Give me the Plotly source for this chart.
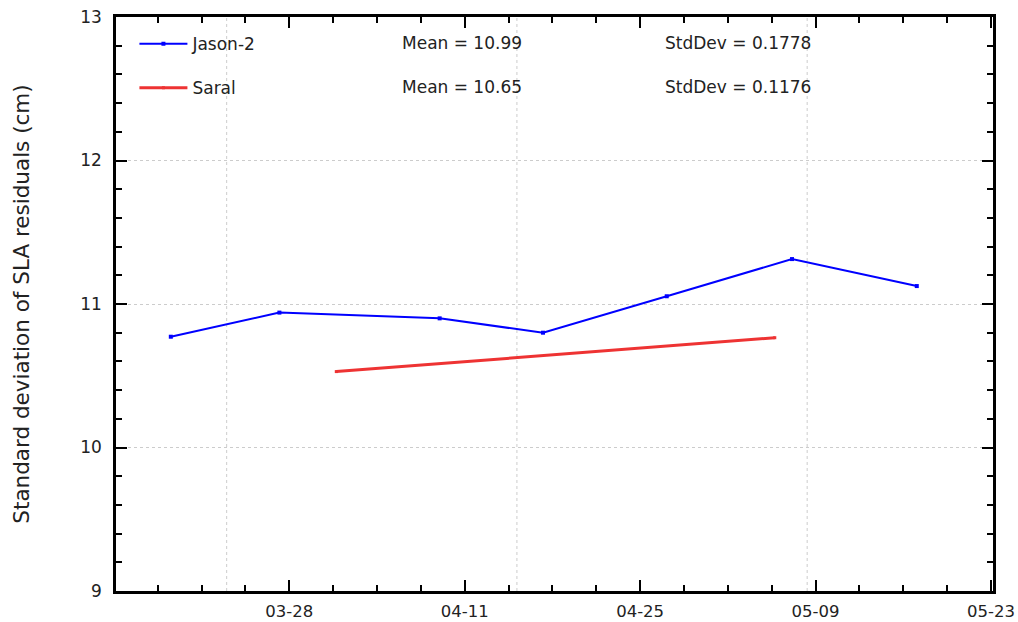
import plotly.graph_objects as go

# ---- data ----
jason_dates = ["2014-03-18 13:00", "2014-03-27 05:00", "2014-04-09 00:00", "2014-04-17 06:00",
               "2014-04-27 03:00", "2014-05-07 03:00", "2014-05-17 02:00"]
jason_vals = [10.772, 10.94, 10.90, 10.80, 11.054, 11.313, 11.125]

saral_dates = ["2014-03-31 18:00", "2014-05-05 18:00"]
saral_vals = [10.529, 10.765]

series_names = ["Jason-2", "Saral"]
mean_labels = ["Mean = 10.99", "Mean = 10.65"]
std_labels = ["StdDev = 0.1778", "StdDev = 0.1176"]

x_tickvals = ["2014-03-28", "2014-04-11", "2014-04-25", "2014-05-09", "2014-05-23"]
x_ticktext = ["03-28", "04-11", "04-25", "05-09", "05-23"]
x_grid_dates = ["2014-03-23 00:00", "2014-04-15 04:00", "2014-05-08 08:00"]
x_range = ["2014-03-14 04:00", "2014-05-23 04:00"]
y_range = [9, 13]

FONT = "DejaVu Sans"
TXT = "#222222"
GRID = "#cccccc"

fig = go.Figure()
fig.add_trace(go.Scatter(
    x=jason_dates, y=jason_vals, name=series_names[0], mode="lines+markers",
    line=dict(color="#0000ff", width=2), marker=dict(symbol="square", size=4, color="#0000ff"),
    legendgroup="a"))
fig.add_trace(go.Scatter(
    x=saral_dates, y=saral_vals, name=series_names[1], mode="lines+markers",
    line=dict(color="#ee3333", width=3), marker=dict(symbol="square", size=3, color="#ee3333"),
    legendgroup="b"))

for d in x_grid_dates:
    fig.add_shape(type="line", xref="x", yref="paper", x0=d, x1=d, y0=0, y1=1,
                  line=dict(color=GRID, width=1, dash="3px,3px"), layer="below")

row_y = [0.9547, 0.8773]
for i in range(len(series_names)):
    fig.add_annotation(text=mean_labels[i], xref="paper", yref="paper", x=0.3235, y=row_y[i],
                       xanchor="left", yanchor="middle", showarrow=False,
                       font=dict(family=FONT, size=17, color=TXT))
    fig.add_annotation(text=std_labels[i], xref="paper", yref="paper", x=0.6238, y=row_y[i],
                       xanchor="left", yanchor="middle", showarrow=False,
                       font=dict(family=FONT, size=17, color=TXT))

fig.update_layout(
    width=1018, height=622,
    margin=dict(l=116, r=25, t=17, b=31, autoexpand=False),
    paper_bgcolor="white", plot_bgcolor="white",
    font=dict(family=FONT, size=17, color=TXT),
    showlegend=True,
    legend=dict(x=0.021, y=0.984, xanchor="left", yanchor="top", xref="paper", yref="paper",
                bgcolor="rgba(0,0,0,0)", font=dict(family=FONT, size=17, color=TXT),
                tracegroupgap=19, itemwidth=48),
    xaxis=dict(
        type="date", range=x_range, tickvals=x_tickvals, ticktext=x_ticktext,
        ticks="inside", ticklen=11, tickwidth=2, tickcolor="black",
        showline=True, linecolor="black", linewidth=2.5, mirror="ticks",
        showgrid=False, zeroline=False, ticklabelstandoff=3,
        tickfont=dict(family=FONT, size=16.5, color=TXT),
        minor=dict(ticks="inside", ticklen=6, tickwidth=2, tickcolor="black",
                   tick0="2014-03-28", dtick=3.5 * 86400000, showgrid=False),
    ),
    yaxis=dict(
        range=y_range, dtick=1, tick0=9,
        ticks="inside", ticklen=11, tickwidth=2, tickcolor="black",
        showline=True, linecolor="black", linewidth=2.5, mirror="ticks",
        showgrid=True, gridcolor=GRID, griddash="3px,3px", gridwidth=1, zeroline=False,
        ticklabelstandoff=8,
        tickfont=dict(family=FONT, size=17, color=TXT),
        title=dict(text="Standard deviation of SLA residuals (cm)", standoff=45,
                   font=dict(family=FONT, size=21.5, color=TXT)),
        minor=dict(ticks="inside", ticklen=6, tickwidth=2, tickcolor="black",
                   dtick=0.2, showgrid=False),
    ),
)

fig.write_html("out.html", config={"displayModeBar": False},
               post_script="document.body.style.margin='0px';")
